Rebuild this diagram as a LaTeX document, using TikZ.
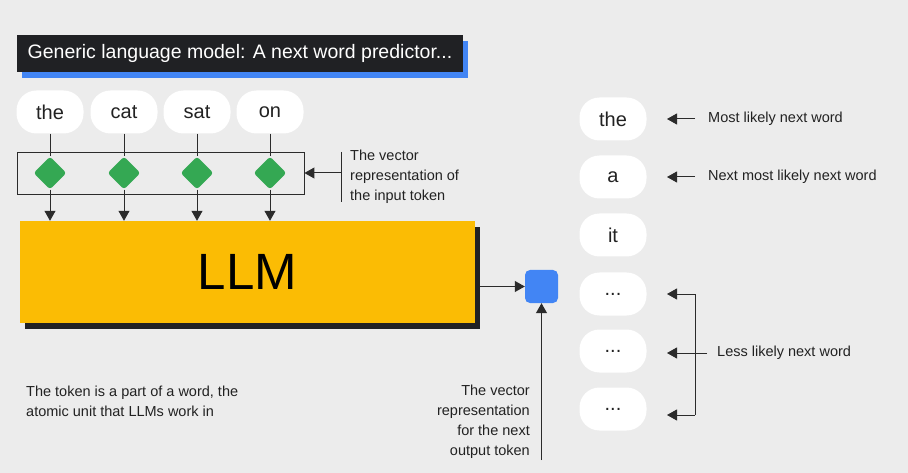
\documentclass[tikz,border=0pt]{standalone}
\usepackage{fontspec}
\setmainfont{Liberation Sans}
\usetikzlibrary{arrows.meta,shapes.geometric,shadows}
\definecolor{bg}{HTML}{ECECEC}
\definecolor{titleblack}{HTML}{202124}
\definecolor{gblue}{HTML}{4285F4}
\definecolor{gyellow}{HTML}{FBBC04}
\definecolor{ggreen}{HTML}{34A853}
\definecolor{linegray}{HTML}{2B2B2B}
\definecolor{txt}{HTML}{222222}
\tikzset{
  pill/.style={fill=white, rounded corners=20pt, minimum width=67pt, minimum height=43pt, inner sep=0pt, text=txt, font=\fontsize{20}{22}\selectfont},
  gem/.style={diamond, fill=ggreen, minimum width=33pt, minimum height=33pt, inner sep=0pt, rounded corners=3pt},
  conn/.style={draw=linegray, line width=1pt},
  arr/.style={conn, -{Triangle[length=10pt,width=11pt]}},
  note/.style={text=txt, font=\fontsize{14.5}{20}\selectfont, inner sep=0pt}
}
\begin{document}
\begin{tikzpicture}[x=1pt,y=-1pt]
\fill[bg] (0,0) rectangle (908,473);
\useasboundingbox (0,0) rectangle (908,473);

% title
\node[fill=titleblack, text=white, minimum width=446pt, minimum height=37pt, inner sep=0pt,
  font=\fontsize{19.5}{22}\selectfont,
  drop shadow={shadow xshift=5pt, shadow yshift=-6pt, fill=gblue, opacity=1}]
  (title) at (240,53.5) {Generic language model: A next word predictor...};

% input tokens
\node[pill] (t1) at (50,112) {the};
\node[pill] (t2) at (124,112) {cat};
\node[pill] (t3) at (197,112) {sat};
\node[pill] (t4) at (270,112) {on};

% vector box
\node[draw=linegray, line width=0.9pt, minimum width=287pt, minimum height=42pt, inner sep=0pt] (vecbox) at (160.5,173) {};

% LLM
\node[fill=gyellow, minimum width=455pt, minimum height=102pt, inner sep=0pt,
  font=\fontsize{51}{56}\selectfont, text=black,
  drop shadow={shadow xshift=5pt, shadow yshift=-6pt, fill=titleblack, opacity=1}]
  (llm) at (247.5,272) {LLM};

% diamonds and connectors
\foreach \i/\x in {1/50,2/124,3/197,4/270}{
  \node[gem] (d\i) at (\x,173) {};
  \draw[conn] (t\i.south) -- (d\i.north);
  \draw[arr] (d\i.south) -- (d\i.south |- llm.north);
}

% input token label
\coordinate (bt) at (341,152);
\coordinate (bm) at (341,173);
\coordinate (bb) at (341,202);
\draw[conn] (bt) -- (bb);
\draw[arr] (bm) -- (vecbox.east);
\node[note, anchor=west, align=left] (vlabel) at (350,177) {The vector\\representation of\\the input token};

% output vector
\node[fill=gblue, rounded corners=5pt, minimum width=33pt, minimum height=33pt, inner sep=0pt] (out) at (541.5,286.5) {};
\coordinate (llmout) at (480,286.5);
\draw[arr] (llmout) -- (out.west);
\coordinate (vin) at (541.5,460);
\draw[arr] (vin) -- (out.south);
\node[note, anchor=east, align=right] (olabel) at (530,422) {The vector\\representation\\for the next\\output token};

% bottom-left note
\node[note, anchor=west, align=left] (tokennote) at (26,401) {The token is a part of a word, the\\atomic unit that LLMs work in};

% output candidates
\node[pill] (c1) at (613,119) {the};
\node[pill] (c2) at (613,177) {a};
\node[pill] (c3) at (613,235) {it};
\node[pill] (c4) at (613,294) {...};
\node[pill] (c5) at (613,351) {...};
\node[pill] (c6) at (613,409) {...};

\coordinate (m1) at (695,119);
\coordinate (m2) at (695,177);
\draw[arr] (m1) -- (667,119) coordinate (m1e);
\draw[arr] (m2) -- (667,177) coordinate (m2e);
\node[note, anchor=west] (l1) at (708,119) {Most likely next word};
\node[note, anchor=west] (l2) at (708,177) {Next most likely next word};

\coordinate (bk1) at (695,294);
\coordinate (bk2) at (695,353);
\coordinate (bk3) at (695,415);
\coordinate (bkt) at (707,353);
\draw[conn] (bk1) -- (bk3);
\draw[arr] (bk1) -- (667,294);
\draw[arr] (bkt) -- (667,353);
\draw[arr] (bk3) -- (667,415);
\node[note, anchor=west] (l3) at (717,353) {Less likely next word};
\end{tikzpicture}
\end{document}
